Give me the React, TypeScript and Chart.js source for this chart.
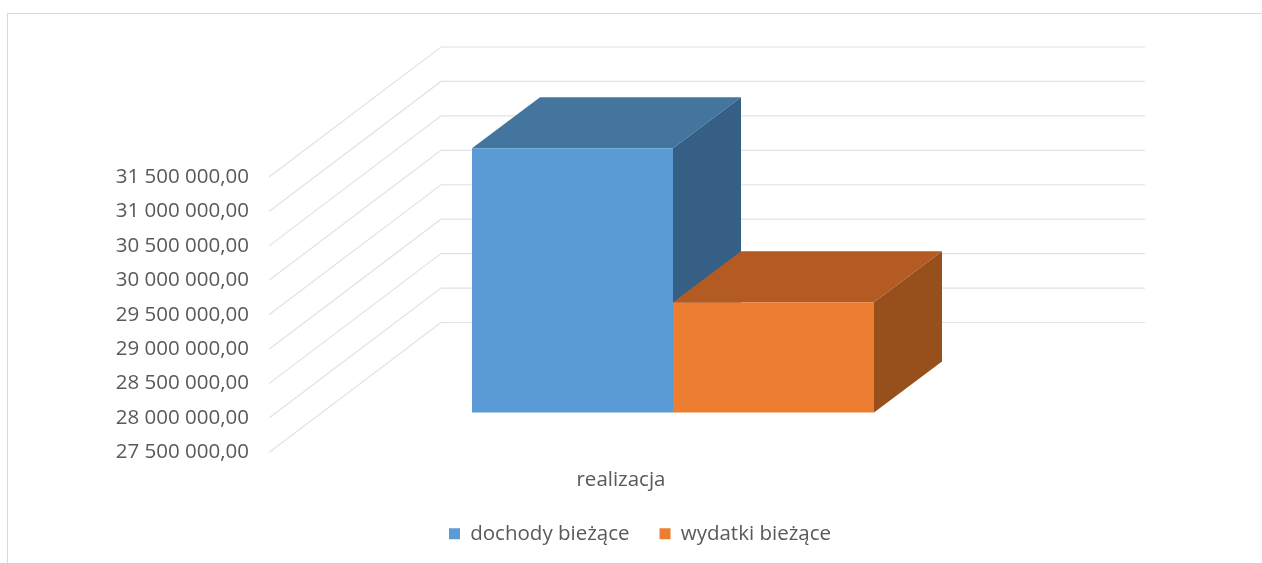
import React, { useEffect, useRef } from "react";
import { Chart, registerables } from "chart.js";

Chart.register(...registerables);

const categories = ["realizacja"];
const dochodyBiezace = [31337000];
const wydatkiBiezace = [29100000];
const axisMin = 27500000;
const axisMax = 31500000;
const axisStep = 500000;

const FONT = '"Open Sans", sans-serif';
const FONT_SIZE = 20.5;
const WALL_DX = 172;
const WALL_DY = -130;
const BAR_SHIFT_X = 52;
const BAR_SHIFT_Y = -40;
const DEPTH_X = 68;
const DEPTH_Y = -51;

const shades = [
  { top: "#44759F", side: "#355F85" },
  { top: "#B35B22", side: "#974F1B" },
];

const formatPl = (v: number) =>
  v.toFixed(2).replace(".", ",").replace(/\B(?=(\d{3})+(?!\d))(?=.*,)/g, " ");

const poly = (ctx: CanvasRenderingContext2D, pts: number[][], fill: string) => {
  ctx.beginPath();
  pts.forEach(([x, y], i) => (i ? ctx.lineTo(x, y) : ctx.moveTo(x, y)));
  ctx.closePath();
  ctx.fillStyle = fill;
  ctx.fill();
};

const box3d = {
  id: "box3d",
  afterLayout(chart: any) {
    chart.legend.top -= 9;
    chart.legend.bottom -= 9;
  },
  beforeDatasetsDraw(chart: any) {
    const { ctx, scales, chartArea } = chart;
    const y = scales.y;
    ctx.save();
    ctx.strokeStyle = "#E2E2E2";
    ctx.lineWidth = 1.2;
    y.ticks.forEach((t: any) => {
      const py = y.getPixelForValue(t.value);
      ctx.beginPath();
      ctx.moveTo(chartArea.left, py);
      ctx.lineTo(chartArea.left + WALL_DX, py + WALL_DY);
      ctx.lineTo(chartArea.right + WALL_DX, py + WALL_DY);
      ctx.stroke();
    });
    ctx.restore();

    ctx.save();
    ctx.translate(BAR_SHIFT_X, BAR_SHIFT_Y);
    chart.data.datasets.forEach((_: any, i: number) => {
      chart.getDatasetMeta(i).data.forEach((bar: any) => {
        const l = bar.x - bar.width / 2;
        const r = bar.x + bar.width / 2;
        const t = bar.y;
        const b = bar.base;
        poly(ctx, [[l, t], [l + DEPTH_X, t + DEPTH_Y], [r + DEPTH_X, t + DEPTH_Y], [r, t]], shades[i].top);
        poly(ctx, [[r, t], [r + DEPTH_X, t + DEPTH_Y], [r + DEPTH_X, b + DEPTH_Y], [r, b]], shades[i].side);
      });
    });
    // Stays translated so the library's bar fronts land on the same plane.
  },
  afterDatasetsDraw(chart: any) {
    chart.ctx.restore();
  },
};

export default function App() {
  const ref = useRef<HTMLCanvasElement>(null);
  useEffect(() => {
    const chart = new Chart(ref.current!, {
      type: "bar",
      data: {
        labels: categories,
        datasets: [
          { label: "dochody bieżące", data: dochodyBiezace, backgroundColor: "#5B9BD5", clip: false, base: axisMin } as any,
          { label: "wydatki bieżące", data: wydatkiBiezace, backgroundColor: "#ED7D31", clip: false, base: axisMin } as any,
        ],
      },
      options: {
        responsive: false,
        animation: false,
        layout: { padding: { top: 177, left: 18, right: 0, bottom: 0 } },
        datasets: { bar: { categoryPercentage: 0.571, barPercentage: 1 } },
        scales: {
          x: {
            grid: { display: false, drawTicks: false },
            border: { display: false },
            ticks: { color: "#595959", font: { family: FONT, size: FONT_SIZE }, padding: 15 },
            afterFit(s: any) { s.height = 50; },
          } as any,
          y: {
            min: axisMin,
            max: axisMax,
            grid: { display: false, drawTicks: false },
            border: { display: false },
            ticks: {
              stepSize: axisStep,
              color: "#595959",
              font: { family: FONT, size: FONT_SIZE },
              padding: 20,
              callback: (v: any) => formatPl(Number(v)),
            },
            afterFit(s: any) { s.width = 251; },
          },
          spacer: {
            position: "right",
            display: true,
            grid: { display: false, drawTicks: false },
            border: { display: false },
            ticks: { display: false },
            afterFit(s: any) { s.width = 289; },
          },
        },
        plugins: {
          tooltip: { enabled: false },
          legend: {
            position: "bottom",
            labels: {
              boxWidth: 11,
              boxHeight: 11,
              padding: 30,
              color: "#595959",
              font: { family: FONT, size: FONT_SIZE },
            },
          },
        },
      },
      plugins: [box3d],
    } as any);
    return () => chart.destroy();
  }, []);

  return (
    <div style={{ position: "fixed", left: 0, top: 0, width: 1262, height: 563, background: "#fff", overflow: "hidden" }}>
      <div
        style={{
          position: "absolute",
          left: 7,
          top: 13,
          right: 0,
          bottom: 0,
          borderTop: "1px solid #D9D9D9",
          borderLeft: "1px solid #D9D9D9",
        }}
      />
      <canvas
        ref={ref}
        width={1262}
        height={563}
        style={{ position: "absolute", left: 0, top: 0, display: "block", filter: "blur(0.5px)" }}
      />
    </div>
  );
}
